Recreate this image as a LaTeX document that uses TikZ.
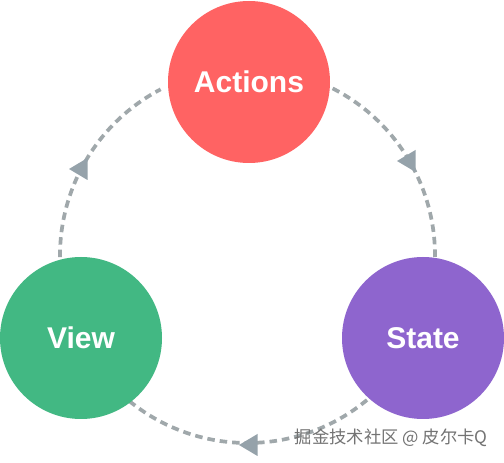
\documentclass[tikz,border=0pt]{standalone}
\usepackage{fontspec}
\setmainfont{Liberation Sans}
\newfontfamily\cjk{Noto Sans CJK SC}
\usetikzlibrary{calc}

\definecolor{actred}{HTML}{FF6363}
\definecolor{viewgreen}{HTML}{42B883}
\definecolor{statepurple}{HTML}{8E65CE}
\definecolor{flowgray}{HTML}{A0A8AB}
\definecolor{tipgray}{HTML}{95A2AA}

\tikzset{
  ball/.style={circle, minimum size=162pt, inner sep=0pt, text=white,
    font=\fontsize{30}{34}\selectfont\bfseries},
  flow/.style={flowgray, line width=3.7pt, dash pattern=on 7.5pt off 5pt},
  tip/.pic={\fill[tipgray] (0,0) -- (18.5,11) -- (18.5,-11) -- cycle;}
}

\begin{document}
\begin{tikzpicture}[x=1pt,y=1pt]
            \useasboundingbox[fill=white] (0,0) rectangle (504,463);
            \coordinate (hub) at (247.5,207.5);
            \coordinate (VA) at ($(hub)+(180.5:187.5)$);
            \coordinate (AS) at ($(hub)+(63:187.5)$);
            \coordinate (SV) at ($(hub)+(-50.4:187.5)$);
            \draw[flow] (VA) arc[start angle=180.5, end angle=117.6, radius=187.5];
            \draw[flow] (AS) arc[start angle=63, end angle=-0.5, radius=187.5];
            \draw[flow] (SV) arc[start angle=-50.4, end angle=-129, radius=187.5];
            \pic (up) at (69,294) {tip};
            \pic (down) at (397,302) {tip};
            \pic (back) at (239,18) {tip};
            \node[ball, fill=actred] (Act) at (249,381) {Actions};
            \node[ball, fill=viewgreen] (Vw) at (81,125) {View};
            \node[ball, fill=statepurple] (St) at (423,125) {State};
            \node[anchor=east, text=black!55, font=\cjk\fontsize{17.3}{19}\selectfont] (mark) at (491,25) {掘金技术社区 @ 皮尔卡Q};
        \end{tikzpicture}
\end{document}
